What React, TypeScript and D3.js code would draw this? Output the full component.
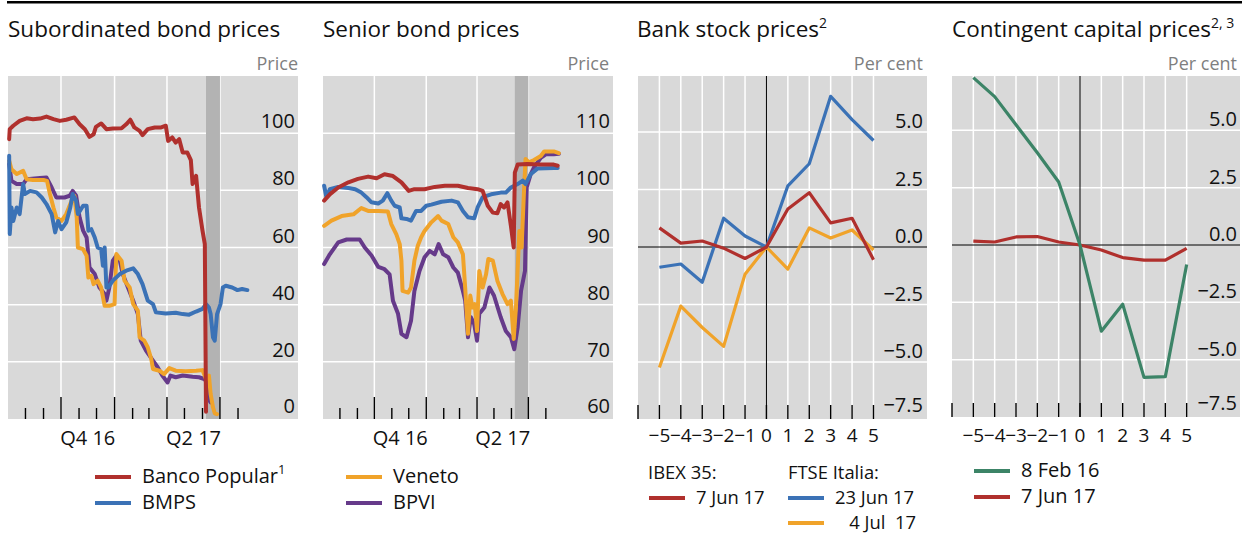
import React from "react";
import * as d3 from "d3";

type Pt = [string, number];

// ---------- Subordinated bond prices ----------
const SUB_BANCO_POPULAR: Pt[] = [
  ["2016-07-04", 97.9], ["2016-07-05", 101.4], ["2016-07-11", 102.6], ["2016-07-22", 104.3],
  ["2016-08-03", 105.2], ["2016-08-14", 104.9], ["2016-08-26", 105.1], ["2016-09-06", 105.8],
  ["2016-09-18", 104.9], ["2016-09-29", 104.3], ["2016-10-10", 104.7], ["2016-10-24", 105.5],
  ["2016-11-02", 103.1], ["2016-11-11", 101.4], ["2016-11-19", 98.7], ["2016-11-26", 99.6],
  ["2016-11-30", 102.2], ["2016-12-09", 103.4], ["2016-12-18", 101.4], ["2016-12-29", 101.6],
  ["2017-01-13", 101.7], ["2017-01-21", 103.1], ["2017-01-28", 104.7], ["2017-02-04", 102.0],
  ["2017-02-13", 100.8], ["2017-02-18", 99.3], ["2017-02-27", 101.4], ["2017-03-11", 102.0],
  ["2017-03-22", 102.0], ["2017-03-30", 102.6], ["2017-04-03", 97.3], ["2017-04-10", 98.5],
  ["2017-04-16", 96.7], ["2017-04-22", 97.9], ["2017-04-28", 93.2], ["2017-05-06", 93.2],
  ["2017-05-12", 90.6], ["2017-05-15", 82.2], ["2017-05-21", 85.1], ["2017-05-26", 74.0],
  ["2017-06-01", 65.9], ["2017-06-05", 61.2], ["2017-06-07", 2.5],
];
const SUB_BMPS: Pt[] = [
  ["2016-07-04", 92.1], ["2016-07-05", 64.7], ["2016-07-08", 74.0], ["2016-07-11", 69.3],
  ["2016-07-17", 74.0], ["2016-07-22", 71.7], ["2016-07-28", 82.2], ["2016-07-31", 78.7],
  ["2016-08-09", 79.8], ["2016-08-20", 79.3], ["2016-08-29", 77.5], ["2016-09-06", 75.2],
  ["2016-09-15", 71.7], ["2016-09-21", 65.3], ["2016-09-26", 69.3], ["2016-10-02", 66.4],
  ["2016-10-10", 68.8], ["2016-10-17", 74.0], ["2016-10-21", 78.7], ["2016-10-27", 76.3],
  ["2016-10-30", 71.7], ["2016-11-08", 74.6], ["2016-11-14", 74.6], ["2016-11-17", 65.9],
  ["2016-11-22", 66.4], ["2016-11-28", 63.5], ["2016-12-03", 60.0], ["2016-12-09", 59.4],
  ["2016-12-12", 53.6], ["2016-12-15", 60.0], ["2016-12-18", 46.0], ["2016-12-21", 46.0],
  ["2016-12-29", 48.4], ["2017-01-10", 50.7], ["2017-01-21", 51.9], ["2017-02-02", 52.7],
  ["2017-02-10", 50.7], ["2017-02-18", 47.2], ["2017-02-27", 41.4], ["2017-03-08", 40.2],
  ["2017-03-13", 37.3], ["2017-03-30", 36.9], ["2017-04-16", 37.2], ["2017-04-28", 36.7],
  ["2017-05-09", 36.5], ["2017-05-21", 37.6], ["2017-06-01", 38.5], ["2017-06-07", 40.2],
  ["2017-06-12", 39.0], ["2017-06-15", 36.7], ["2017-06-19", 28.6], ["2017-06-22", 27.4],
  ["2017-06-26", 36.7], ["2017-07-02", 40.2], ["2017-07-06", 46.0], ["2017-07-11", 46.6],
  ["2017-07-22", 46.0], ["2017-07-31", 45.1], ["2017-08-08", 45.5], ["2017-08-17", 45.1],
];
const SUB_VENETO: Pt[] = [
  ["2016-07-04", 90.3], ["2016-07-08", 87.4], ["2016-07-17", 85.7], ["2016-07-28", 86.8],
  ["2016-08-03", 83.9], ["2016-08-14", 83.6], ["2016-09-01", 83.6], ["2016-09-07", 83.3],
  ["2016-09-12", 78.7], ["2016-09-18", 74.0], ["2016-09-23", 70.5], ["2016-10-02", 69.3],
  ["2016-10-10", 71.7], ["2016-10-19", 76.3], ["2016-10-24", 78.1], ["2016-10-28", 70.5],
  ["2016-10-30", 60.0], ["2016-11-08", 59.4], ["2016-11-14", 57.1], ["2016-11-17", 49.5],
  ["2016-11-22", 50.1], ["2016-11-26", 47.2], ["2016-12-03", 48.4], ["2016-12-09", 46.0],
  ["2016-12-15", 39.6], ["2016-12-23", 39.6], ["2017-01-01", 40.2], ["2017-01-04", 57.7],
  ["2017-01-13", 55.4], ["2017-01-18", 48.4], ["2017-01-27", 46.0], ["2017-02-02", 40.2],
  ["2017-02-10", 37.9], ["2017-02-13", 28.6], ["2017-02-21", 27.4], ["2017-02-27", 25.1],
  ["2017-03-05", 21.0], ["2017-03-08", 17.5], ["2017-03-19", 16.9], ["2017-03-27", 15.7],
  ["2017-04-05", 17.8], ["2017-04-16", 16.9], ["2017-05-03", 16.7], ["2017-05-21", 16.9],
  ["2017-06-01", 17.1], ["2017-06-07", 14.0], ["2017-06-12", 15.2], ["2017-06-15", 8.7],
  ["2017-06-19", 4.1], ["2017-06-22", 2.0], ["2017-06-26", 1.7],
];
const SUB_BPVI: Pt[] = [
  ["2016-07-04", 89.2], ["2016-07-08", 83.3], ["2016-07-17", 82.2], ["2016-07-28", 82.2],
  ["2016-08-03", 83.9], ["2016-08-26", 84.3], ["2016-09-06", 84.5], ["2016-09-15", 81.0],
  ["2016-09-23", 77.5], ["2016-10-07", 77.5], ["2016-10-16", 78.1], ["2016-10-21", 79.8],
  ["2016-10-27", 78.1], ["2016-11-02", 70.5], ["2016-11-08", 65.9], ["2016-11-14", 63.5],
  ["2016-11-19", 53.0], ["2016-11-28", 50.7], ["2016-12-06", 46.0], ["2016-12-15", 43.7],
  ["2016-12-18", 41.4], ["2016-12-23", 46.0], ["2016-12-29", 55.4], ["2017-01-04", 57.1],
  ["2017-01-10", 55.4], ["2017-01-15", 50.7], ["2017-01-24", 46.0], ["2017-02-02", 41.4],
  ["2017-02-10", 36.7], ["2017-02-15", 27.4], ["2017-02-24", 23.9], ["2017-03-08", 20.4],
  ["2017-03-16", 18.1], ["2017-03-24", 15.2], ["2017-04-02", 12.8], ["2017-04-07", 15.2],
  ["2017-04-16", 14.6], ["2017-04-28", 15.2], ["2017-05-15", 14.8], ["2017-05-26", 14.6],
  ["2017-06-04", 14.0], ["2017-06-09", 12.8], ["2017-06-13", 6.4], ["2017-06-15", 5.8],
];

// ---------- Senior bond prices ----------
const SEN_BANCO_POPULAR: Pt[] = [
  ["2016-07-04", 98.2], ["2016-07-14", 99.3], ["2016-07-29", 100.5], ["2016-08-16", 101.4],
  ["2016-09-02", 102.0], ["2016-09-20", 102.4], ["2016-10-05", 102.1], ["2016-10-19", 102.8],
  ["2016-11-03", 102.5], ["2016-11-18", 101.4], ["2016-12-01", 99.9], ["2016-12-11", 100.2],
  ["2016-12-29", 100.2], ["2017-01-16", 100.6], ["2017-02-03", 100.8], ["2017-02-26", 100.8],
  ["2017-03-16", 100.4], ["2017-04-02", 100.2], ["2017-04-11", 99.9], ["2017-04-20", 97.3],
  ["2017-04-29", 96.1], ["2017-05-07", 96.0], ["2017-05-13", 97.6], ["2017-05-19", 97.0],
  ["2017-05-25", 97.9], ["2017-05-31", 93.8], ["2017-06-05", 90.0], ["2017-06-07", 103.1],
  ["2017-06-12", 104.5], ["2017-06-29", 104.6], ["2017-07-23", 104.5], ["2017-08-15", 104.5],
  ["2017-08-22", 104.3],
];
const SEN_BMPS: Pt[] = [
  ["2016-07-04", 100.8], ["2016-07-08", 98.8], ["2016-07-14", 100.2], ["2016-07-29", 100.6],
  ["2016-08-16", 100.4], ["2016-08-28", 100.2], ["2016-09-08", 99.6], ["2016-09-17", 98.8],
  ["2016-09-26", 97.9], ["2016-10-08", 97.7], ["2016-10-16", 98.2], ["2016-10-24", 99.5],
  ["2016-10-31", 98.2], ["2016-11-06", 97.3], ["2016-11-15", 97.0], ["2016-11-18", 95.1],
  ["2016-11-27", 95.0], ["2016-12-05", 94.7], ["2016-12-14", 96.4], ["2016-12-23", 96.4],
  ["2017-01-01", 97.3], ["2017-01-10", 97.5], ["2017-01-28", 98.0], ["2017-02-15", 98.2],
  ["2017-02-26", 97.9], ["2017-03-07", 96.4], ["2017-03-16", 95.3], ["2017-03-27", 95.1],
  ["2017-04-02", 97.0], ["2017-04-11", 98.8], ["2017-04-26", 99.3], ["2017-05-13", 99.6],
  ["2017-05-22", 99.6], ["2017-05-31", 100.5], ["2017-06-12", 101.1], ["2017-06-21", 101.7],
  ["2017-06-26", 101.1], ["2017-07-05", 102.8], ["2017-07-17", 103.8], ["2017-08-15", 103.9],
  ["2017-08-22", 103.9],
];
const SEN_VENETO: Pt[] = [
  ["2016-07-04", 93.8], ["2016-07-17", 94.7], ["2016-08-04", 95.5], ["2016-08-25", 95.8],
  ["2016-09-08", 96.9], ["2016-09-20", 96.4], ["2016-10-08", 96.4], ["2016-10-25", 96.3],
  ["2016-10-31", 94.1], ["2016-11-09", 92.3], ["2016-11-15", 90.6], ["2016-11-18", 87.7],
  ["2016-11-20", 82.4], ["2016-11-30", 82.1], ["2016-12-05", 83.0], ["2016-12-11", 87.7],
  ["2016-12-17", 90.3], ["2016-12-23", 91.8], ["2016-12-29", 92.9], ["2017-01-10", 94.4],
  ["2017-01-22", 95.5], ["2017-01-28", 94.7], ["2017-02-09", 94.1], ["2017-02-18", 91.8],
  ["2017-02-26", 90.9], ["2017-03-07", 88.8], ["2017-03-11", 83.0], ["2017-03-16", 74.9],
  ["2017-03-20", 81.6], ["2017-03-24", 79.5], ["2017-03-28", 80.1], ["2017-04-01", 75.4],
  ["2017-04-05", 85.9], ["2017-04-11", 83.0], ["2017-04-17", 85.3], ["2017-04-21", 88.0],
  ["2017-04-29", 87.7], ["2017-05-07", 84.2], ["2017-05-16", 81.9], ["2017-05-25", 80.1],
  ["2017-05-31", 80.7], ["2017-06-05", 74.0], ["2017-06-09", 79.5], ["2017-06-15", 92.9],
  ["2017-06-19", 90.0], ["2017-06-23", 99.3], ["2017-06-26", 105.5], ["2017-07-02", 104.9],
  ["2017-07-11", 105.3], ["2017-07-23", 106.0], ["2017-07-29", 106.8], ["2017-08-15", 106.8],
  ["2017-08-24", 106.5],
];
const SEN_BPVI: Pt[] = [
  ["2016-07-04", 87.1], ["2016-07-14", 88.8], ["2016-07-29", 90.9], ["2016-08-13", 91.4],
  ["2016-09-05", 91.4], ["2016-09-14", 90.0], ["2016-09-26", 88.6], ["2016-10-08", 86.6],
  ["2016-10-19", 86.2], ["2016-10-28", 85.3], ["2016-11-03", 80.7], ["2016-11-12", 78.4],
  ["2016-11-18", 74.9], ["2016-11-27", 74.3], ["2016-12-05", 77.2], ["2016-12-11", 82.4],
  ["2016-12-20", 85.9], ["2016-12-29", 88.3], ["2017-01-07", 89.4], ["2017-01-16", 88.8],
  ["2017-01-23", 90.6], ["2017-01-31", 88.8], ["2017-02-09", 88.3], ["2017-02-18", 86.5],
  ["2017-02-26", 85.6], ["2017-03-07", 82.4], ["2017-03-11", 80.7], ["2017-03-16", 74.3],
  ["2017-03-21", 77.8], ["2017-03-27", 76.6], ["2017-04-01", 73.7], ["2017-04-05", 78.4],
  ["2017-04-14", 79.5], ["2017-04-23", 83.0], ["2017-05-01", 81.6], ["2017-05-13", 77.8],
  ["2017-05-22", 75.4], ["2017-05-31", 74.3], ["2017-06-06", 72.2], ["2017-06-12", 76.0],
  ["2017-06-18", 82.4], ["2017-06-25", 85.9], ["2017-06-28", 100.5], ["2017-07-05", 102.8],
  ["2017-07-11", 104.0], ["2017-07-23", 105.7], ["2017-08-01", 106.3], ["2017-08-15", 106.3],
  ["2017-08-24", 106.4],
];

// ---------- Event-window panels ----------
const EVENT_DAYS = [-5, -4, -3, -2, -1, 0, 1, 2, 3, 4, 5];
const EVENT_TICKS = [-6, -5, -4, -3, -2, -1, 0, 1, 2, 3, 4, 5];
const IBEX_7JUN17 = [0.83, 0.17, 0.26, -0.05, -0.5, 0, 1.65, 2.36, 1.05, 1.25, -0.55];
const FTSE_23JUN17 = [-0.88, -0.74, -1.53, 1.25, 0.48, 0, 2.66, 3.62, 6.55, 5.54, 4.63];
const FTSE_4JUL17 = [-5.24, -2.57, -3.5, -4.32, -1.18, 0, -0.96, 0.83, 0.39, 0.74, -0.13];
const COCO_8FEB16 = [7.3, 6.47, 5.24, 4.02, 2.75, 0, -3.76, -2.58, -5.77, -5.74, -0.85];
const COCO_7JUN17 = [0.17, 0.13, 0.35, 0.37, 0.13, 0, -0.22, -0.55, -0.66, -0.66, -0.15];

// ---------- Axis definitions ----------
const SUB_Y_TICKS = [0, 20, 40, 60, 80, 100];
const SEN_Y_TICKS = [60, 70, 80, 90, 100, 110];
const PCT_Y_TICKS = [-7.5, -5, -2.5, 0, 2.5, 5];
const QUARTER_GRID = ["2016-10-01", "2017-01-01", "2017-04-01", "2017-07-01"];
const QUARTER_LABELS = [
  { label: "Q4 16", from: "2016-10-01", to: "2017-01-01" },
  { label: "Q2 17", from: "2017-04-01", to: "2017-07-01" },
];
const MONTH_TICK_RANGE = ["2016-08-01", "2017-08-02"];
const RESOLUTION_BAND = ["2017-06-07", "2017-07-01"];

const C = {
  red: "#b0302d",
  blue: "#3b72b6",
  orange: "#f0a32a",
  purple: "#663a8a",
  green: "#3c8467",
  bg: "#d9d9d9",
  band: "#b3b3b3",
  text: "#111111",
  grey: "#7f7f7f",
};
const FONT = "'Open Sans', 'Noto Sans', sans-serif";
const parse = d3.timeParse("%Y-%m-%d");

type Series = { data: Pt[]; color: string };

function TimePanel(props: {
  x0: number; x1: number; dateDomain: string[]; yDomain: number[]; yTicks: number[];
  series: Series[]; labelRight: number; unitRight: number;
}) {
  const top = 76, bottom = 419;
  const { x0, x1 } = props;
  const x = d3.scaleTime().domain(props.dateDomain.map((d) => parse(d) as Date)).range([x0, x1]);
  const y = d3.scaleLinear().domain(props.yDomain).range([bottom, top]);
  const months = d3.timeMonth.range(parse(MONTH_TICK_RANGE[0]) as Date, parse(MONTH_TICK_RANGE[1]) as Date);
  const line = d3.line<Pt>().x((d) => x(parse(d[0]) as Date)).y((d) => y(d[1]));
  const bx0 = x(parse(RESOLUTION_BAND[0]) as Date);
  const bx1 = x(parse(RESOLUTION_BAND[1]) as Date);
  return (
    <g>
      <rect x={x0} y={top} width={x1 - x0} height={bottom - top} fill={C.bg} />
      {props.yTicks.filter((v) => y(v) < bottom - 1).map((v) => (
        <line key={"gy" + v} x1={x0} x2={x1} y1={y(v)} y2={y(v)} stroke="#fff" strokeWidth={1.5} />
      ))}
      {QUARTER_GRID.map((d) => (
        <line key={"gx" + d} x1={x(parse(d) as Date)} x2={x(parse(d) as Date)} y1={top} y2={bottom} stroke="#fff" strokeWidth={1.5} />
      ))}
      <rect x={bx0} y={top} width={bx1 - bx0} height={bottom - top} fill={C.band} />
      {props.series.map((s, i) => (
        <path key={i} d={line(s.data) || ""} fill="none" stroke={s.color} strokeWidth={4} strokeLinejoin="round" strokeLinecap="round" />
      ))}
      {months.map((m) => {
        const major = m.getMonth() % 3 === 0;
        const xx = x(m);
        return <line key={"t" + m.getTime()} x1={xx} x2={xx} y1={major ? bottom - 22 : bottom - 11} y2={bottom} stroke="#000" strokeWidth={1.4} />;
      })}
      {props.yTicks.map((v) => (
        <text key={"yl" + v} x={props.labelRight} y={Math.min(y(v) - 5, bottom - 6)} textAnchor="end" fontSize={20} fill={C.text}>{v}</text>
      ))}
      {QUARTER_LABELS.map((q) => (
        <text key={q.label} x={(x(parse(q.from) as Date) + x(parse(q.to) as Date)) / 2} y={445} textAnchor="middle" fontSize={20} fill={C.text}>{q.label}</text>
      ))}
      <text x={props.unitRight} y={70} textAnchor="end" fontSize={18} fill={C.grey}>Price</text>
    </g>
  );
}

function EventPanel(props: {
  x0: number; x1: number; bottom: number; yRange: number[]; series: { values: number[]; color: string }[];
  labelRight: number; unitRight: number;
}) {
  const top = 76;
  const { x0, x1, bottom } = props;
  const x = d3.scaleLinear().domain([-6, 7.5]).range([x0, x1]);
  const y = d3.scaleLinear().domain([-7.5, 7.5]).range(props.yRange);
  const fmtY = d3.format(".1f");
  const fmtX = d3.format("d");
  const line = d3.line<number>().x((_, i) => x(EVENT_DAYS[i])).y((d) => y(d));
  return (
    <g>
      <rect x={x0} y={top} width={x1 - x0} height={bottom - top} fill={C.bg} />
      {PCT_Y_TICKS.filter((v) => v !== 0 && y(v) < bottom - 1).map((v) => (
        <line key={"gy" + v} x1={x0} x2={x1} y1={y(v)} y2={y(v)} stroke="#fff" strokeWidth={1.5} />
      ))}
      {EVENT_DAYS.filter((d) => d !== 0).map((d) => (
        <line key={"gx" + d} x1={x(d)} x2={x(d)} y1={top} y2={bottom} stroke="#fff" strokeWidth={1.5} />
      ))}
      <line x1={x0} x2={x1} y1={y(0)} y2={y(0)} stroke="#000" strokeWidth={1} />
      <line x1={x(0)} x2={x(0)} y1={top} y2={bottom} stroke="#000" strokeWidth={1} />
      {props.series.map((s, i) => (
        <path key={i} d={line(s.values) || ""} fill="none" stroke={s.color} strokeWidth={3.2} strokeLinejoin="round" />
      ))}
      {EVENT_TICKS.map((d) => (
        <line key={"t" + d} x1={x(d)} x2={x(d)} y1={bottom - 14} y2={bottom} stroke="#000" strokeWidth={1.4} />
      ))}
      {EVENT_DAYS.map((d) => (
        <text key={"xl" + d} x={x(d)} y={442} textAnchor="middle" fontSize={19} fill={C.text}>{fmtX(d)}</text>
      ))}
      {PCT_Y_TICKS.map((v) => (
        <text key={"yl" + v} x={props.labelRight} y={Math.min(y(v) - 4, bottom - 7)} textAnchor="end" fontSize={20} fill={C.text}>{fmtY(v)}</text>
      ))}
      <text x={props.unitRight} y={70} textAnchor="end" fontSize={18} fill={C.grey}>Per cent</text>
    </g>
  );
}

function LegendItem({ x, y, color, label, sup, fs = 20 }: { x: number; y: number; color: string; label: string; sup?: string; fs?: number }) {
  return (
    <g>
      <line x1={x} x2={x + 36} y1={y} y2={y} stroke={color} strokeWidth={4} />
      <text x={x + 47} y={y + fs * 0.32} fontSize={fs} fill={C.text} style={{ whiteSpace: "pre" }}>
        {label}
        {sup ? <tspan fontSize={13} dy={-9}>{sup}</tspan> : null}
      </text>
    </g>
  );
}

export default function App() {
  const lf = 18.4;
  return (
    <svg width={1242} height={534} style={{ position: "absolute", left: 0, top: 0, background: "#fff" }} fontFamily={FONT}>
      <rect x={7} y={1} width={1235} height={2.5} fill="#000" />
      {/* Titles */}
      <text x={8} y={37} fontSize={22.5} fill={C.text}>Subordinated bond prices</text>
      <text x={323} y={37} fontSize={22.5} fill={C.text}>Senior bond prices</text>
      <text x={637} y={37} fontSize={22.5} fill={C.text}>
        Bank stock prices<tspan fontSize={14} dy={-9}>2</tspan>
      </text>
      <text x={952} y={37} fontSize={22.5} fill={C.text}>
        Contingent capital prices<tspan fontSize={14} dy={-9}>2, 3</tspan>
      </text>

      <TimePanel
        x0={8} x1={298} dateDomain={["2016-07-02", "2017-11-12"]} yDomain={[0, 120]} yTicks={SUB_Y_TICKS}
        labelRight={295} unitRight={298}
        series={[
          { data: SUB_BPVI, color: C.purple },
          { data: SUB_VENETO, color: C.orange },
          { data: SUB_BMPS, color: C.blue },
          { data: SUB_BANCO_POPULAR, color: C.red },
        ]}
      />
      <TimePanel
        x0={323} x1={613} dateDomain={["2016-07-02", "2017-11-28"]} yDomain={[60, 120]} yTicks={SEN_Y_TICKS}
        labelRight={610} unitRight={609}
        series={[
          { data: SEN_BPVI, color: C.purple },
          { data: SEN_VENETO, color: C.orange },
          { data: SEN_BMPS, color: C.blue },
          { data: SEN_BANCO_POPULAR, color: C.red },
        ]}
      />
      <EventPanel
        x0={638} x1={927} bottom={419} yRange={[419.5, 74.5]} labelRight={923} unitRight={923}
        series={[
          { values: FTSE_4JUL17, color: C.orange },
          { values: FTSE_23JUN17, color: C.blue },
          { values: IBEX_7JUN17, color: C.red },
        ]}
      />
      <EventPanel
        x0={952} x1={1240} bottom={417} yRange={[417, 73]} labelRight={1237} unitRight={1237}
        series={[
          { values: COCO_7JUN17, color: C.red },
          { values: COCO_8FEB16, color: C.green },
        ]}
      />

      {/* Legends */}
      <LegendItem x={95} y={477} color={C.red} label="Banco Popular" sup="1" />
      <LegendItem x={95} y={503} color={C.blue} label="BMPS" />
      <LegendItem x={346} y={477} color={C.orange} label="Veneto" />
      <LegendItem x={346} y={503} color={C.purple} label="BPVI" />

      <text x={648} y={479} fontSize={lf} fill={C.text}>IBEX 35:</text>
      <text x={788} y={479} fontSize={lf} fill={C.text}>FTSE Italia:</text>
      <LegendItem x={649} y={498} color={C.red} label="7 Jun 17" fs={lf} />
      <LegendItem x={788} y={498} color={C.blue} label="23 Jun 17" fs={lf} />
      <LegendItem x={788} y={523} color={C.orange} label="   4 Jul  17" fs={lf} />

      <LegendItem x={974} y={471} color={C.green} label="8 Feb 16" />
      <LegendItem x={974} y={497} color={C.red} label="7 Jun 17" />
    </svg>
  );
}
